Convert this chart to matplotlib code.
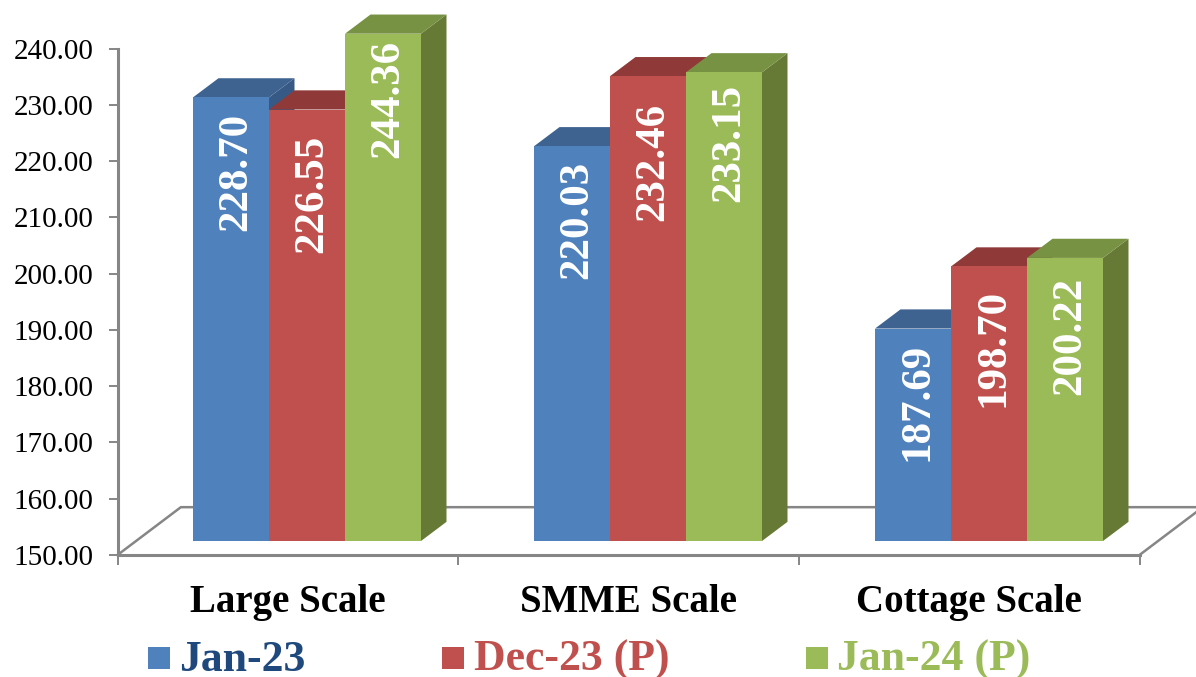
import matplotlib
matplotlib.use('Agg')
from matplotlib import pyplot as plt
from matplotlib.patches import Polygon, Rectangle

plt.rcParams['font.family'] = ['Liberation Serif', 'DejaVu Serif']

categories = ['Large Scale', 'SMME Scale', 'Cottage Scale']
series_names = ['Jan-23', 'Dec-23 (P)', 'Jan-24 (P)']
jan23 = [228.70, 220.03, 187.69]
dec23 = [226.55, 232.46, 198.70]
jan24 = [244.36, 233.15, 200.22]
y_ticks = [150, 160, 170, 180, 190, 200, 210, 220, 230, 240]

front = ['#4F81BD', '#C0504D', '#9BBB59']
top = ['#3E6390', '#8F3A38', '#789243']
side = ['#365A85', '#7F3331', '#667A36']
legend_text = ['#1F497D', '#C0504D', '#9BBB59']
grey = '#868686'

W, H = 1196, 677
fig = plt.figure(figsize=(W / 100, H / 100), dpi=100)


# axes position from pixel edges of the picture
def box(left, right, y_top, y_bottom):
    return [left / W, 1 - y_bottom / H, (right - left) / W, (y_bottom - y_top) / H]


# the axis frame with ticks, sits a bit lower than the bars
ax = fig.add_axes(box(117.5, 1139.5, 48.7, 555))
ax.set_xlim(0, 3)
ax.set_ylim(150, 240)
ax.set_yticks(y_ticks)
ax.set_yticklabels(['%.2f' % t for t in y_ticks], fontsize=21, color='black')
ax.set_xticks([0, 1, 2, 3])
ax.set_xticklabels([])
ax.set_xticks([0.5, 1.5, 2.5], minor=True)
ax.set_xticklabels(categories, minor=True, fontsize=28, fontweight='bold')
ax.tick_params(axis='y', length=6.5, width=1.4, color=grey, pad=11)
ax.tick_params(axis='x', which='major', length=7.5, width=1.4, color=grey)
ax.tick_params(axis='x', which='minor', length=0, pad=21)
for name in ['top', 'right']:
    ax.spines[name].set_visible(False)
for name in ['left', 'bottom']:
    ax.spines[name].set_color(grey)
    ax.spines[name].set_linewidth(2.2)

# floor of the 3d box
floor_dx, floor_y = 0.186, 158.5
ax.plot([0, floor_dx, 3 + floor_dx], [150, floor_y, floor_y], color=grey, lw=1.8, clip_on=False)
ax.plot([3, 3 + floor_dx], [150, floor_y], color=grey, lw=1.8, clip_on=False)

# bars live in their own transparent axes
bx = fig.add_axes(box(136.5, 1159.5, 33.7, 541))
bx.set_xlim(-0.5, 2.5)
bx.set_ylim(150, 240)
bx.axis('off')

bar_w = 76 / 341
depth_x = 25.5 / 341
depth_y = 3.4

# gap between the bar top and its label, pixels
label_gap = [[15, 15, 14], [25, 27, 22], [6, 12, 19]]

for s, values in enumerate([jan23, dec23, jan24]):
    for c, v in enumerate(values):
        shown = min(v, 240)
        x0 = c + (s - 1.5) * bar_w
        x1 = x0 + bar_w
        bx.add_patch(Polygon([(x1, 150), (x1 + depth_x, 150 + depth_y),
                              (x1 + depth_x, shown + depth_y), (x1, shown)],
                             color=side[s], lw=0, clip_on=False, zorder=2 + s))
        bx.add_patch(Polygon([(x0, shown), (x0 + depth_x, shown + depth_y),
                              (x1 + depth_x, shown + depth_y), (x1, shown)],
                             color=top[s], lw=0, clip_on=False, zorder=2 + s))
        bx.add_patch(Rectangle((x0, 150), bar_w, shown - 150, color=front[s], lw=0,
                               clip_on=False, zorder=2 + s))
        bx.annotate('%.2f' % v, (x0 + bar_w / 2, shown),
                    xytext=(3.5, -label_gap[s][c] * 0.72), textcoords='offset points',
                    rotation=90, ha='center', va='top', color='white',
                    fontsize=31, fontweight='bold', zorder=10)

# legend spaced by hand, the gaps are not even
swatch_x = [148, 442, 806]
text_x = [179, 474, 837]
for s, name in enumerate(series_names):
    fig.add_artist(Rectangle((swatch_x[s] / W, 1 - 669 / H), 22 / W, 22 / H,
                             color=front[s], lw=0, transform=fig.transFigure))
    fig.text(text_x[s] / W, 1 - 671 / H, name, color=legend_text[s], fontsize=31.5,
             fontweight='bold', ha='left', va='baseline')

fig.savefig('out.png', dpi=100)
